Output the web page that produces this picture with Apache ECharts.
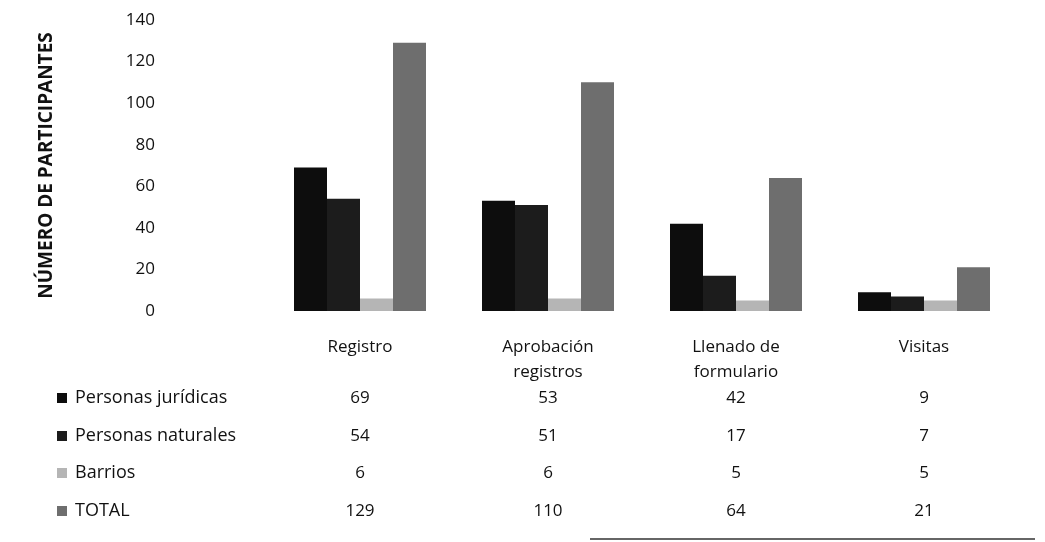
<!DOCTYPE html>
<html>
<head>
<meta charset="utf-8">
<script src="https://cdn.jsdelivr.net/npm/echarts@6/dist/echarts.min.js"></script>
<style>
html,body{margin:0;padding:0;background:#fff;}
#c{width:1045px;height:542px;}
</style>
</head>
<body>
<div id="c"></div>
<script>
var categories = ['Registro', 'Aprobación\nregistros', 'Llenado de\nformulario', 'Visitas'];
var seriesNames = ['Personas jurídicas', 'Personas naturales', 'Barrios', 'TOTAL'];
var juridicas = [69, 53, 42, 9];
var naturales = [54, 51, 17, 7];
var barrios = [6, 6, 5, 5];
var total = [129, 110, 64, 21];
var yTicks = [0, 20, 40, 60, 80, 100, 120, 140];

var FONT = '"Open Sans", "Noto Sans", sans-serif';
var colors = ['#0d0d0d', '#1c1c1c', '#b5b5b5', '#6e6e6e'];
var seriesData = [juridicas, naturales, barrios, total];

var chart = echarts.init(document.getElementById('c'), null, {renderer: 'canvas'});
var option = {
  backgroundColor: '#fff',
  animation: false,
  grid: {left: 266, right: 27, top: 20, bottom: 231, containLabel: false},
  xAxis: {
    type: 'category',
    data: categories,
    axisLine: {show: false},
    axisTick: {show: false},
    axisLabel: {fontFamily: FONT, fontSize: 17, color: '#111', margin: 24, lineHeight: 25, interval: 0}
  },
  yAxis: {
    type: 'value',
    min: yTicks[0], max: yTicks[yTicks.length - 1], interval: 20,
    splitLine: {show: false},
    axisLine: {show: false},
    axisTick: {show: false},
    axisLabel: {fontFamily: FONT, fontSize: 17, color: '#111', margin: 111},
    name: 'NÚMERO DE PARTICIPANTES',
    nameLocation: 'middle',
    nameRotate: 90,
    nameGap: 210,
    nameTextStyle: {fontFamily: FONT, fontSize: 19, fontWeight: 'bold', color: '#111'}
  },
  series: seriesNames.map(function (n, i) {
    return {
      name: n, type: 'bar', data: seriesData[i], barWidth: 33, barGap: '0%',
      itemStyle: {color: colors[i]}
    };
  })
};
chart.setOption(option);

var graphics = [];
var rowY = [398, 436, 473, 511];
seriesNames.forEach(function (n, i) {
  var y = rowY[i];
  graphics.push({type: 'rect', shape: {x: 57, y: y - 5, width: 10, height: 10},
    style: {fill: colors[i]}});
  graphics.push({type: 'text', x: 75, y: y,
    style: {text: n, fontFamily: FONT, fontSize: 18, fill: '#111', textVerticalAlign: 'middle', textAlign: 'left'}});
  seriesData[i].forEach(function (v, j) {
    var px = chart.convertToPixel({xAxisIndex: 0}, j);
    graphics.push({type: 'text', x: px, y: y,
      style: {text: String(v), fontFamily: FONT, fontSize: 17, fill: '#111', textVerticalAlign: 'middle', textAlign: 'center'}});
  });
});
graphics.push({type: 'line', shape: {x1: 590, y1: 539, x2: 1035, y2: 539}, style: {stroke: '#333', lineWidth: 1.5}});
chart.setOption({graphic: graphics});
</script>
</body>
</html>
